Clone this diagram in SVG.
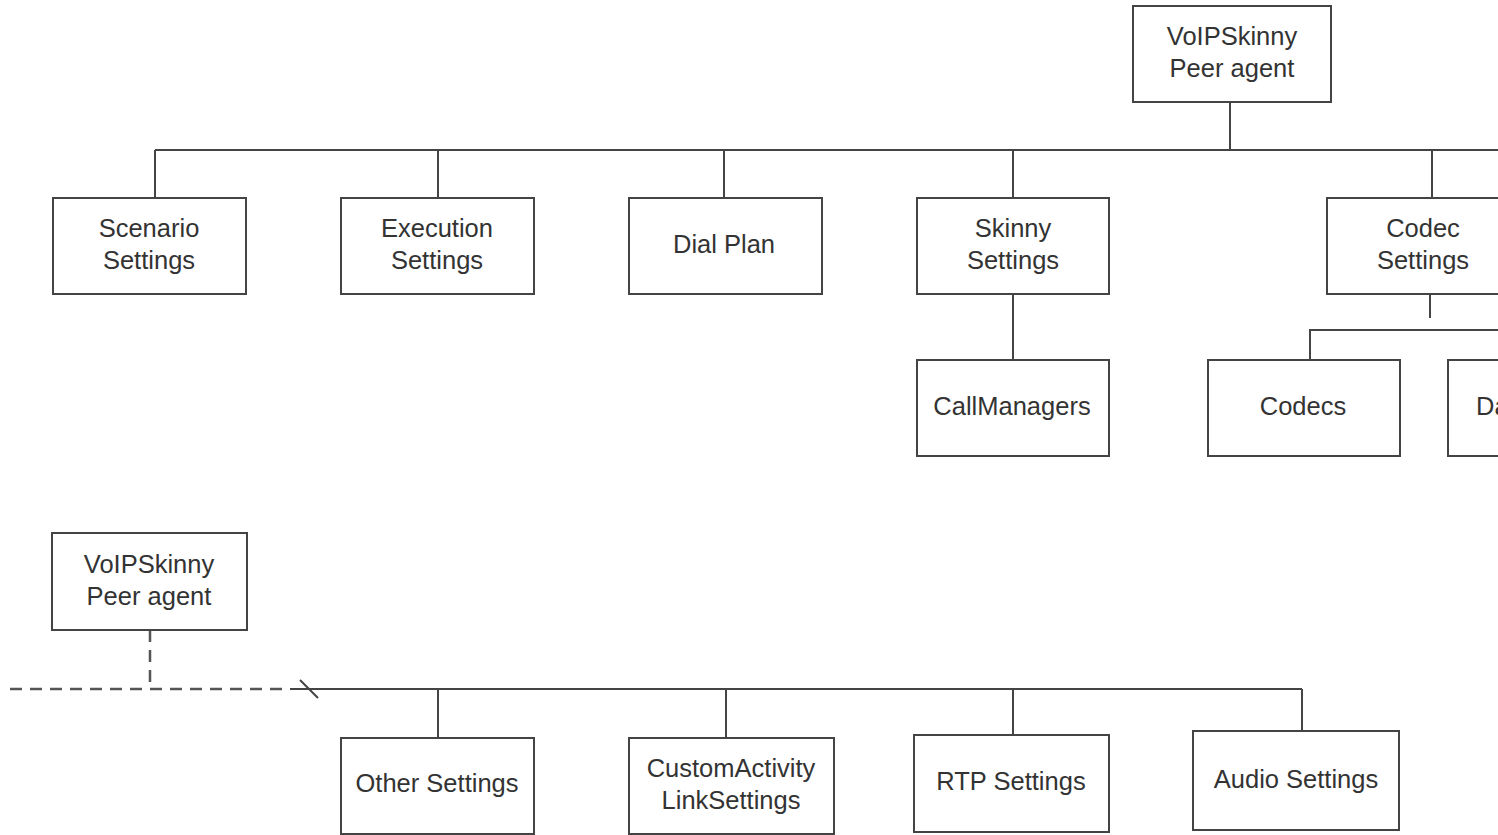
<svg xmlns="http://www.w3.org/2000/svg" width="1498" height="835" viewBox="0 0 1498 835">
<style>
.b{fill:#fff;stroke:#444;stroke-width:2}
.t{font-family:"Liberation Sans",Arial,sans-serif;font-size:25.5px;fill:#333;text-anchor:middle}
.c{fill:none;stroke:#444;stroke-width:2}
.d{fill:none;stroke:#555;stroke-width:2.5;stroke-dasharray:12,8}
</style>
<rect width="1498" height="835" fill="#fff"/>
<g id="connectors">
<path class="c" d="M1230 102V150M155 150H1498M155 150V198M438 150V198M724 150V198M1013 150V198M1432 150V198"/>
<path class="c" d="M1013 294V360M1430 294V318M1310 360V330H1498"/>
<path class="d" d="M150 630V689M10 689H150M150 689H290"/>
<path class="c" d="M290 689H1302M300 680L318 698M438 689V738M726 689V738M1013 689V735M1302 689V731"/>
</g>
<g id="n-root"><rect class="b" x="1133" y="6" width="198" height="96"/><text class="t" x="1232" y="45">VoIPSkinny</text><text class="t" x="1232" y="77">Peer agent</text></g>
<g id="n-scenario"><rect class="b" x="53" y="198" width="193" height="96"/><text class="t" x="149" y="237">Scenario</text><text class="t" x="149" y="269">Settings</text></g>
<g id="n-execution"><rect class="b" x="341" y="198" width="193" height="96"/><text class="t" x="437" y="237">Execution</text><text class="t" x="437" y="269">Settings</text></g>
<g id="n-dialplan"><rect class="b" x="629" y="198" width="193" height="96"/><text class="t" x="724" y="253">Dial Plan</text></g>
<g id="n-skinny"><rect class="b" x="917" y="198" width="192" height="96"/><text class="t" x="1013" y="237">Skinny</text><text class="t" x="1013" y="269">Settings</text></g>
<g id="n-codec"><rect class="b" x="1327" y="198" width="200" height="96"/><text class="t" x="1423" y="237">Codec</text><text class="t" x="1423" y="269">Settings</text></g>
<g id="n-callmanagers"><rect class="b" x="917" y="360" width="192" height="96"/><text class="t" x="1012" y="415">CallManagers</text></g>
<g id="n-codecs"><rect class="b" x="1208" y="360" width="192" height="96"/><text class="t" x="1303" y="415">Codecs</text></g>
<g id="n-da"><rect class="b" x="1448" y="360" width="80" height="96"/><text class="t" x="1476" y="415" style="text-anchor:start">Da</text></g>
<g id="n-peer2"><rect class="b" x="52" y="533" width="195" height="97"/><text class="t" x="149" y="573">VoIPSkinny</text><text class="t" x="149" y="605">Peer agent</text></g>
<g id="n-other"><rect class="b" x="341" y="738" width="193" height="96"/><text class="t" x="437" y="792">Other Settings</text></g>
<g id="n-custom"><rect class="b" x="629" y="738" width="205" height="96"/><text class="t" x="731" y="777">CustomActivity</text><text class="t" x="731" y="809">LinkSettings</text></g>
<g id="n-rtp"><rect class="b" x="914" y="735" width="195" height="97"/><text class="t" x="1011" y="790">RTP Settings</text></g>
<g id="n-audio"><rect class="b" x="1193" y="731" width="206" height="99"/><text class="t" x="1296" y="788">Audio Settings</text></g>
</svg>
